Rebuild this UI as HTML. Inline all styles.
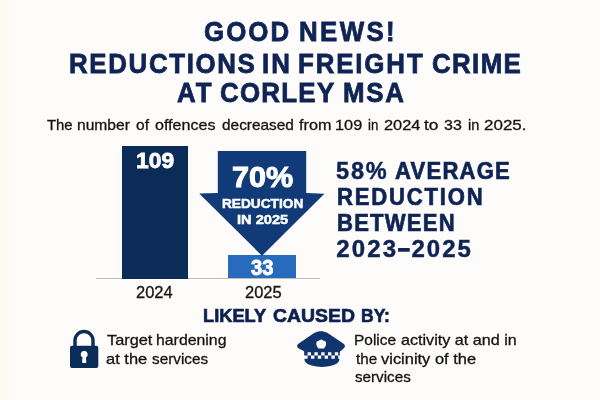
<!DOCTYPE html>
<html lang="en"><head><meta charset="utf-8"><title>Good news! Reductions in freight crime at Corley MSA</title>
<style>
html,body{margin:0;padding:0}
body{width:600px;height:400px;overflow:hidden;background:#fdfcfa;font-family:"Liberation Sans", Arial, Helvetica, sans-serif;position:relative}
.t{position:absolute;white-space:nowrap;line-height:1;transform-origin:0 0;display:block}
.bx{position:absolute}
svg{position:absolute;left:0;top:0}
</style></head><body>
<div class="bx" style="left:0;top:0;width:16px;height:400px;background:linear-gradient(to right,#fbf9f3,rgba(253,252,250,0))"></div>
<div class="bx" style="left:96px;top:278.3px;width:224px;height:1px;background:#bdbdbd"></div>
<div class="bx" style="left:122px;top:146px;width:66px;height:132.5px;background:#0a2c56"></div>
<div class="bx" style="left:228.2px;top:254.7px;width:67.8px;height:23.8px;background:#286abc"></div>
<svg width="600" height="400" viewBox="0 0 600 400">
<polygon points="217.8,151.1 306.2,151.1 306.2,193 324.4,193.7 262,255.8 199.2,193.6 217.8,193" fill="#103a78"/>
<!-- lock -->
<path d="M75,347 V340.5 A9,9 0 0 1 93,340.5 V347" fill="none" stroke="#0a2c56" stroke-width="3.4"/>
<rect x="70" y="345.8" width="28.3" height="22.2" rx="2" fill="#0a2c56"/>
<path d="M84.2,350.7 a3.5,3.5 0 0 1 1.8,6.5 l0.25,5.1 a0.6,0.6 0 0 1 -0.6,0.6 h-2.9 a0.6,0.6 0 0 1 -0.6,-0.6 l0.25,-5.1 a3.5,3.5 0 0 1 1.8,-6.5z" fill="#fff"/>
<!-- cap -->
<path d="M320.9,331.2 C318.5,331.2 316.5,331.8 314.5,332.8 L299.5,343 C297.8,344.2 297.1,345 297.1,346 C297.1,347.2 297.9,348 299.2,348.7 L302.8,350.6 C303.8,351.1 304.3,351.6 304.4,352.2 L339.8,352.2 C339.9,351.6 340.4,351.1 341.4,350.6 L343.2,348.7 C344.3,348 344.9,347.2 344.9,346 C344.9,345 344.2,344.2 342.5,343 L327.3,332.8 C325.3,331.8 323.3,331.2 320.9,331.2Z" fill="#10356e"/>
<path d="M304.5,358.8 H339.3 C339.4,360.2 339.1,361 338.6,361.8 C336.2,365 329.3,366.9 321.9,366.9 C314.5,366.9 307.6,365 305.2,361.8 C304.7,361 304.4,360.2 304.5,358.8Z" fill="#10356e"/>
<g fill="#10356e"><rect x="304.20" y="352" width="3.40" height="3.5"/><rect x="311.00" y="352" width="3.40" height="3.5"/><rect x="317.80" y="352" width="3.40" height="3.5"/><rect x="324.60" y="352" width="3.40" height="3.5"/><rect x="331.40" y="352" width="3.40" height="3.5"/><rect x="338.20" y="352" width="1.60" height="3.5"/><rect x="307.60" y="355.5" width="3.40" height="3.5"/><rect x="314.40" y="355.5" width="3.40" height="3.5"/><rect x="321.20" y="355.5" width="3.40" height="3.5"/><rect x="328.00" y="355.5" width="3.40" height="3.5"/><rect x="334.80" y="355.5" width="3.40" height="3.5"/></g>
<path d="M321.2,339.4 L325.9,341.7 C326.5,344.3 325.8,346.6 323.8,348.5 H318.6 C316.6,346.6 315.9,344.3 316.5,341.7Z" fill="#fff"/>
</svg>

<span class="t" style="left:203.79px;top:17.95px;font-size:27.5px;font-weight:700;color:#0f2454;transform:scaleX(0.9400);-webkit-text-stroke:0.8px #0f2454;letter-spacing:2.213px">GOOD</span>
<span class="t" style="left:299.05px;top:17.95px;font-size:27.5px;font-weight:700;color:#0f2454;transform:scaleX(0.9400);-webkit-text-stroke:0.8px #0f2454;letter-spacing:2.511px">NEWS!</span>
<span class="t" style="left:68.65px;top:49.90px;font-size:27.5px;font-weight:700;color:#0f2454;transform:scaleX(0.9400);-webkit-text-stroke:0.8px #0f2454;letter-spacing:1.768px">REDUCTIONS</span>
<span class="t" style="left:262.23px;top:49.90px;font-size:27.5px;font-weight:700;color:#0f2454;transform:scaleX(0.9400);-webkit-text-stroke:0.8px #0f2454;letter-spacing:2.153px">IN</span>
<span class="t" style="left:298.05px;top:49.90px;font-size:27.5px;font-weight:700;color:#0f2454;transform:scaleX(0.9400);-webkit-text-stroke:0.8px #0f2454;letter-spacing:1.990px">FREIGHT</span>
<span class="t" style="left:431.59px;top:49.90px;font-size:27.5px;font-weight:700;color:#0f2454;transform:scaleX(0.9400);-webkit-text-stroke:0.8px #0f2454;letter-spacing:1.457px">CRIME</span>
<span class="t" style="left:177.12px;top:78.95px;font-size:27.5px;font-weight:700;color:#0f2454;transform:scaleX(0.9400);-webkit-text-stroke:0.8px #0f2454;letter-spacing:2.030px">AT</span>
<span class="t" style="left:220.19px;top:78.95px;font-size:27.5px;font-weight:700;color:#0f2454;transform:scaleX(0.9400);-webkit-text-stroke:0.8px #0f2454;letter-spacing:1.367px">CORLEY</span>
<span class="t" style="left:342.65px;top:78.95px;font-size:27.5px;font-weight:700;color:#0f2454;transform:scaleX(0.9400);-webkit-text-stroke:0.8px #0f2454;letter-spacing:1.788px">MSA</span>
<span class="t" style="left:46.96px;top:116.98px;font-size:15px;font-weight:400;color:#141414;transform:scaleX(0.9919);-webkit-text-stroke:0.3px #141414">The</span>
<span class="t" style="left:77.45px;top:116.98px;font-size:15px;font-weight:400;color:#141414;transform:scaleX(1.0404);-webkit-text-stroke:0.3px #141414">number</span>
<span class="t" style="left:136.34px;top:116.98px;font-size:15px;font-weight:400;color:#141414;transform:scaleX(1.0342);-webkit-text-stroke:0.3px #141414">of</span>
<span class="t" style="left:154.55px;top:116.98px;font-size:15px;font-weight:400;color:#141414;transform:scaleX(1.0706);-webkit-text-stroke:0.3px #141414">offences</span>
<span class="t" style="left:221.54px;top:116.98px;font-size:15px;font-weight:400;color:#141414;transform:scaleX(1.0267);-webkit-text-stroke:0.3px #141414">decreased</span>
<span class="t" style="left:298.51px;top:116.98px;font-size:15px;font-weight:400;color:#141414;transform:scaleX(1.0805);-webkit-text-stroke:0.3px #141414">from</span>
<span class="t" style="left:335.37px;top:116.98px;font-size:15px;font-weight:400;color:#141414;transform:scaleX(1.0882);-webkit-text-stroke:0.3px #141414">109</span>
<span class="t" style="left:368.44px;top:116.98px;font-size:15px;font-weight:400;color:#141414;transform:scaleX(0.8815);-webkit-text-stroke:0.3px #141414">in</span>
<span class="t" style="left:384.09px;top:116.98px;font-size:15px;font-weight:400;color:#141414;transform:scaleX(1.0935);-webkit-text-stroke:0.3px #141414">2024</span>
<span class="t" style="left:424.46px;top:116.98px;font-size:15px;font-weight:400;color:#141414;transform:scaleX(1.1530);-webkit-text-stroke:0.3px #141414">to</span>
<span class="t" style="left:444.49px;top:116.98px;font-size:15px;font-weight:400;color:#141414;transform:scaleX(1.0657);-webkit-text-stroke:0.3px #141414">33</span>
<span class="t" style="left:467.75px;top:116.98px;font-size:15px;font-weight:400;color:#141414;transform:scaleX(0.9718);-webkit-text-stroke:0.3px #141414">in</span>
<span class="t" style="left:483.93px;top:116.98px;font-size:15px;font-weight:400;color:#141414;transform:scaleX(1.1316);-webkit-text-stroke:0.3px #141414">2025.</span>
<span class="t" style="left:136.39px;top:149.98px;font-size:22.5px;font-weight:700;color:#ffffff;transform:scaleX(1.0140);-webkit-text-stroke:0.8px #ffffff">109</span>
<span class="t" style="left:231.51px;top:161.95px;font-size:29.5px;font-weight:700;color:#ffffff;transform:scaleX(1.0368);-webkit-text-stroke:1.0px #ffffff">70%</span>
<span class="t" style="left:221.91px;top:196.92px;font-size:13.3px;font-weight:700;color:#ffffff;transform:scaleX(1.0279);-webkit-text-stroke:0.5px #ffffff">REDUCTION</span>
<span class="t" style="left:236.97px;top:213.00px;font-size:13.5px;font-weight:700;color:#ffffff;transform:scaleX(1.0835);-webkit-text-stroke:0.5px #ffffff">IN 2025</span>
<span class="t" style="left:251.45px;top:257.05px;font-size:22px;font-weight:700;color:#ffffff;transform:scaleX(0.9182);-webkit-text-stroke:0.8px #ffffff">33</span>
<span class="t" style="left:135.50px;top:284.98px;font-size:16px;font-weight:400;color:#141414;transform:scaleX(1.0290);-webkit-text-stroke:0.3px #141414">2024</span>
<span class="t" style="left:244.52px;top:284.98px;font-size:16px;font-weight:400;color:#141414;transform:scaleX(1.0294);-webkit-text-stroke:0.3px #141414">2025</span>
<span class="t" style="left:336.47px;top:159.01px;font-size:24px;font-weight:700;color:#0f2454;transform:scaleX(0.9800);-webkit-text-stroke:0.45px #0f2454;letter-spacing:1.884px">58%</span>
<span class="t" style="left:394.76px;top:159.01px;font-size:24px;font-weight:700;color:#0f2454;transform:scaleX(0.9200);-webkit-text-stroke:0.7px #0f2454;letter-spacing:1.312px">AVERAGE</span>
<span class="t" style="left:336.60px;top:184.96px;font-size:24px;font-weight:700;color:#0f2454;transform:scaleX(0.9200);-webkit-text-stroke:0.7px #0f2454;letter-spacing:1.949px">REDUCTION</span>
<span class="t" style="left:336.60px;top:211.06px;font-size:24px;font-weight:700;color:#0f2454;transform:scaleX(0.9200);-webkit-text-stroke:0.7px #0f2454;letter-spacing:1.304px">BETWEEN</span>
<span class="t" style="left:336.19px;top:237.06px;font-size:24px;font-weight:700;color:#0f2454;transform:scaleX(1.0000);-webkit-text-stroke:0.45px #0f2454;letter-spacing:2.188px">2023</span>
<span class="t" style="left:397.72px;top:236.06px;font-size:24px;font-weight:700;color:#0f2454;transform:scaleX(0.8852);-webkit-text-stroke:1.3px #0f2454">–</span>
<span class="t" style="left:411.58px;top:237.06px;font-size:24px;font-weight:700;color:#0f2454;transform:scaleX(1.0000);-webkit-text-stroke:0.45px #0f2454;letter-spacing:1.941px">2025</span>
<span class="t" style="left:202.93px;top:305.87px;font-size:19.2px;font-weight:700;color:#0e2050;transform:scaleX(0.9513);-webkit-text-stroke:0.7px #0e2050">LIKELY</span>
<span class="t" style="left:272.95px;top:305.87px;font-size:19.2px;font-weight:700;color:#0e2050;transform:scaleX(1.0118);-webkit-text-stroke:0.7px #0e2050">CAUSED</span>
<span class="t" style="left:361.05px;top:305.87px;font-size:19.2px;font-weight:700;color:#0e2050;transform:scaleX(0.9138);-webkit-text-stroke:0.7px #0e2050">BY:</span>
<span class="t" style="left:106.57px;top:332.95px;font-size:14.8px;font-weight:400;color:#141414;transform:scaleX(1.1011);-webkit-text-stroke:0.3px #141414">Target</span>
<span class="t" style="left:156.36px;top:332.95px;font-size:14.8px;font-weight:400;color:#141414;transform:scaleX(1.0704);-webkit-text-stroke:0.3px #141414">hardening</span>
<span class="t" style="left:106.11px;top:351.95px;font-size:14.8px;font-weight:400;color:#141414;transform:scaleX(1.1128);-webkit-text-stroke:0.3px #141414">at the</span>
<span class="t" style="left:152.25px;top:351.95px;font-size:14.8px;font-weight:400;color:#141414;transform:scaleX(1.0331);-webkit-text-stroke:0.3px #141414">services</span>
<span class="t" style="left:354.30px;top:332.95px;font-size:14.8px;font-weight:400;color:#141414;transform:scaleX(1.0437);-webkit-text-stroke:0.3px #141414">Police</span>
<span class="t" style="left:400.93px;top:332.95px;font-size:14.8px;font-weight:400;color:#141414;transform:scaleX(1.0904);-webkit-text-stroke:0.3px #141414">activity at and in</span>
<span class="t" style="left:355.56px;top:352.10px;font-size:14.8px;font-weight:400;color:#141414;transform:scaleX(1.0287);-webkit-text-stroke:0.3px #141414">the</span>
<span class="t" style="left:381.43px;top:352.10px;font-size:14.8px;font-weight:400;color:#141414;transform:scaleX(1.1114);-webkit-text-stroke:0.3px #141414">vicinity of the</span>
<span class="t" style="left:355.05px;top:370.10px;font-size:14.8px;font-weight:400;color:#141414;transform:scaleX(1.0272);-webkit-text-stroke:0.3px #141414">services</span>
</body></html>
